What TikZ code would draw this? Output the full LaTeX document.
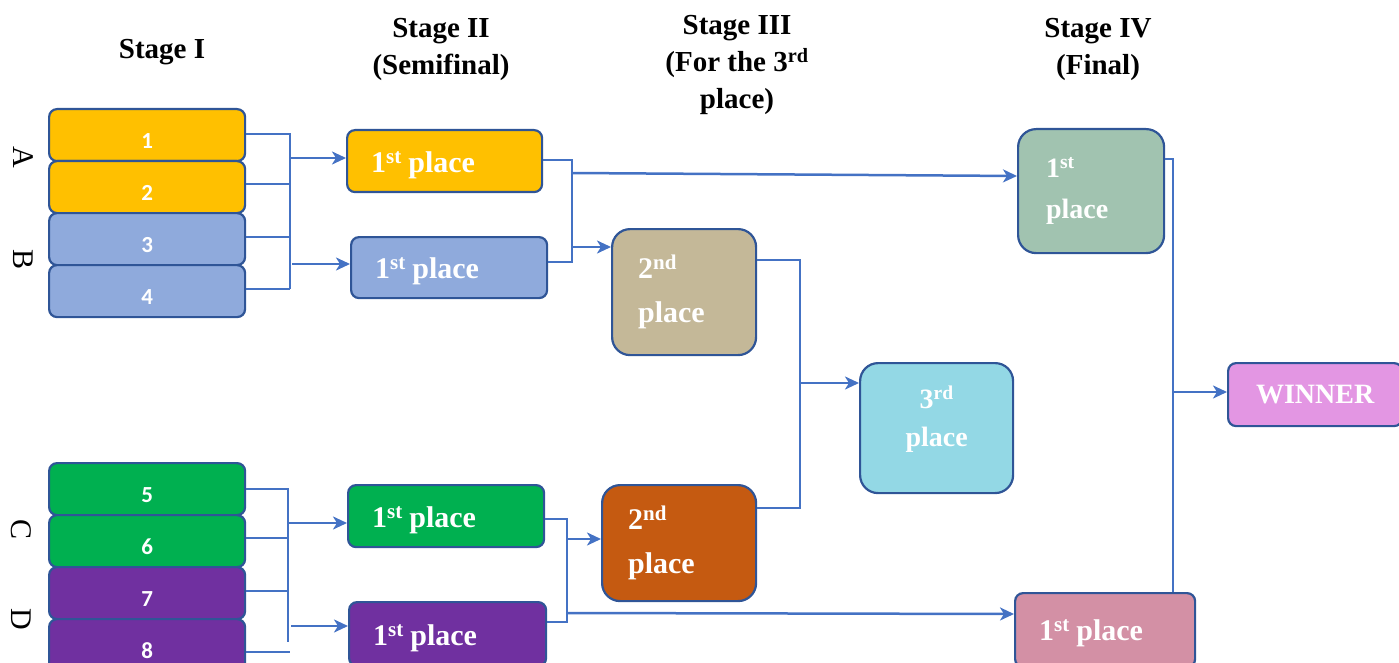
\documentclass[tikz,border=0pt]{standalone}
\usepackage{fontspec}
\setmainfont{Liberation Serif}
\newfontfamily\numfont{Carlito}
\usetikzlibrary{arrows.meta}
\definecolor{bord}{HTML}{2F5597}
\definecolor{lnc}{HTML}{4472C4}
\definecolor{cyel}{HTML}{FFC000}
\definecolor{cblu}{HTML}{8FAADC}
\definecolor{cgrn}{HTML}{00B050}
\definecolor{cpur}{HTML}{7030A0}
\definecolor{ctan}{HTML}{C4B898}
\definecolor{corg}{HTML}{C55A11}
\definecolor{ccya}{HTML}{93D8E5}
\definecolor{cgg}{HTML}{A1C3B0}
\definecolor{cpnk}{HTML}{D390A5}
\definecolor{cwin}{HTML}{E396E3}
\newcommand{\nb}[1]{\raisebox{-13pt}[0pt][0pt]{#1}}
\newcommand{\fst}{\raisebox{-4pt}[\height][\depth]{1\textsuperscript{st}\hspace{0.22em}place}}
\begin{document}
\begin{tikzpicture}[x=1pt,y=-1pt,
  bx/.style={draw=bord, line width=2.2pt, rounded corners=8pt, inner sep=0pt, anchor=north west, text=white},
  big/.style={bx, rounded corners=18pt},
  num/.style={bx, minimum width=196pt, minimum height=52pt, font=\numfont\bfseries\fontsize{23}{23}\selectfont},
  pl/.style={font=\bfseries\fontsize{30}{30}\selectfont},
  hdr/.style={font=\bfseries\fontsize{29}{37}\selectfont, align=center},
  grp/.style={font=\fontsize{30}{30}\selectfont, rotate=-90},
  conn/.style={draw=lnc, line width=2.5pt},
  arr/.style={conn, -{Stealth[length=14pt,width=13pt,inset=4pt]}}]
\useasboundingbox (0,0) rectangle (1399,663);
% headers
\node[hdr] (h1) at (162,52) {Stage I};
\node[hdr] (h2) at (441,49) {Stage II\\(Semifinal)};
\node[hdr] (h3) at (737,65) {Stage III\\(For the 3\textsuperscript{rd}\\place)};
\node[hdr] (h4) at (1098,49) {Stage IV\\(Final)};
% group letters
\node[grp] (gA) at (23,157) {A};
\node[grp] (gB) at (23,260) {B};
\node[grp] (gC) at (21,530) {C};
\node[grp] (gD) at (21,619) {D};
% stage I
\node[num, fill=cyel] (s1) at (48,108) {\nb{1}};
\node[num, fill=cyel] (s2) at (48,160) {\nb{2}};
\node[num, fill=cblu] (s3) at (48,212) {\nb{3}};
\node[num, fill=cblu] (s4) at (48,264) {\nb{4}};
\node[num, fill=cgrn] (s5) at (48,462) {\nb{5}};
\node[num, fill=cgrn] (s6) at (48,514) {\nb{6}};
\node[num, fill=cpur] (s7) at (48,566) {\nb{7}};
\node[num, fill=cpur] (s8) at (48,618) {\nb{8}};
% stage II
\node[bx, pl, fill=cyel, minimum width=195pt, minimum height=62pt, text width=147pt, inner xsep=24pt, align=left] (q1) at (346,129) {\fst};
\node[bx, pl, fill=cblu, minimum width=196pt, minimum height=61pt, text width=148pt, inner xsep=24pt, align=left] (q2) at (350,236) {\fst};
\node[bx, pl, fill=cgrn, minimum width=196pt, minimum height=62pt, text width=148pt, inner xsep=24pt, align=left] (q3) at (347,484) {\fst};
\node[bx, pl, fill=cpur, minimum width=197pt, minimum height=64pt, text width=149pt, inner xsep=24pt, align=left] (q4) at (348,601) {\fst};
% stage III
\node[big, fill=ctan, minimum width=144pt, minimum height=126pt, text width=92pt, inner xsep=26pt, align=left, font=\bfseries\fontsize{30}{44}\selectfont] (t1) at (611,228) {2\textsuperscript{nd}\\place};
\node[big, fill=corg, minimum width=154pt, minimum height=116pt, text width=102pt, inner xsep=26pt, align=left, font=\bfseries\fontsize{30}{44}\selectfont] (t2) at (601,484) {2\textsuperscript{nd}\\place};
\node[big, fill=ccya, minimum width=153pt, minimum height=130pt, text width=153pt, align=center, font=\bfseries\fontsize{28}{38}\selectfont] (t3) at (859,362) {3\textsuperscript{rd}\\place\\[-14pt]\mbox{}};
% stage IV
\node[big, fill=cgg, minimum width=146pt, minimum height=124pt, text width=90pt, inner xsep=28pt, align=left, font=\bfseries\fontsize{28}{41}\selectfont] (f1) at (1017,128) {1\textsuperscript{st}\\place};
\node[bx, pl, fill=cpnk, minimum width=180pt, minimum height=74pt, text width=132pt, inner xsep=24pt, align=left] (f2) at (1014,592) {\raisebox{9pt}{\fst}};
\node[bx, fill=cwin, minimum width=174pt, minimum height=63pt, font=\bfseries\fontsize{28}{28}\selectfont] (win) at (1227,362) {WINNER};
% connectors stage I -> II (top)
\coordinate (v1) at (290,134);
\coordinate (v1b) at (290,289);
\draw[conn] (s1.east |- 0,134) -- (v1) -- (v1b);
\draw[conn] (s2.east |- 0,184) -- (290,184);
\draw[conn] (s3.east |- 0,237) -- (290,237);
\draw[conn] (s4.east |- 0,289) -- (v1b);
\draw[arr] (290,158) -- (q1.west |- 0,158);
\draw[arr] (292,264) -- (q2.west |- 0,264);
% bottom
\coordinate (v2) at (288,489);
\coordinate (v2b) at (288,642);
\draw[conn] (s5.east |- 0,489) -- (v2) -- (v2b);
\draw[conn] (s6.east |- 0,538) -- (288,538);
\draw[conn] (s7.east |- 0,591) -- (288,591);
\draw[conn] (s8.east |- 0,652) -- (290,652);
\draw[arr] (288,523) -- (q3.west |- 0,523);
\draw[arr] (291,626) -- (q4.west |- 0,626);
% stage II -> III
\draw[conn] (q1.east |- 0,160) -- (572,160) -- (572,262) -- (q2.east |- 0,262);
\draw[arr] (572,173) -- (f1.west |- 0,176);
\draw[arr] (572,247) -- (t1.west |- 0,247);
\draw[conn] (q3.east |- 0,519) -- (567,519) -- (567,622) -- (q4.east |- 0,622);
\draw[arr] (567,539) -- (t2.west |- 0,539);
\draw[arr] (567,613) -- (f2.west |- 0,614);
% stage III -> 3rd
\draw[conn] (t1.east |- 0,260) -- (800,260) -- (800,508) -- (t2.east |- 0,508);
\draw[arr] (800,383) -- (t3.west |- 0,383);
% final
\draw[conn] (f1.east |- 0,159) -- (1173,159) -- (f2.north -| 1173,0);
\draw[arr] (1173,392) -- (win.west |- 0,392);
\end{tikzpicture}
\end{document}
